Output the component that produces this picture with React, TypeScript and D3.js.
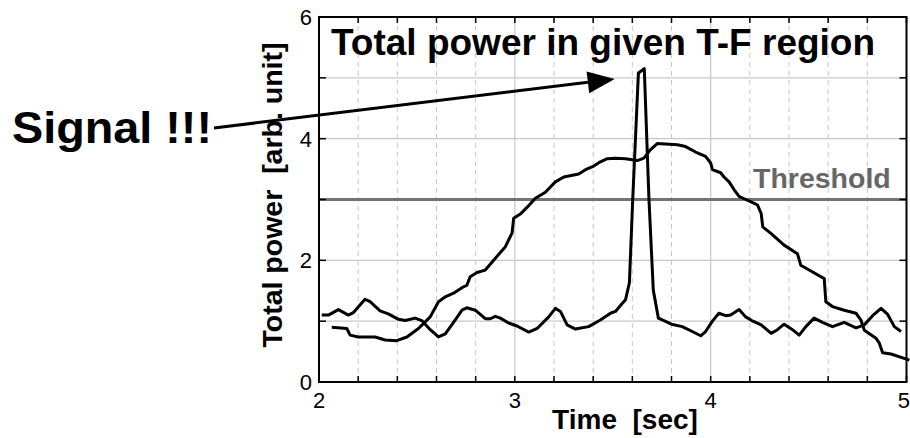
import React from "react";
import * as d3 from "d3";

// ---- data ----
const xTicksMajor = [2, 3, 4, 5];
const xTicksMinor = [2.2, 2.4, 2.6, 2.8, 3.2, 3.4, 3.6, 3.8, 4.2, 4.4, 4.6, 4.8];
const yTicks = [0, 1, 2, 3, 4, 5, 6];
const yTickLabels = [0, 2, 4, 6];
const thresholdValue = 3;

// noisy power with the signal spike
const signalSeries: [number, number][] = [
  [2.014, 1.1], [2.048, 1.1], [2.099, 1.19], [2.15, 1.1], [2.175, 1.14], [2.235, 1.36], [2.261, 1.32],
  [2.312, 1.17], [2.354, 1.12], [2.406, 1.03], [2.44, 1.01], [2.491, 1.05], [2.525, 1.01], [2.568, 0.86],
  [2.61, 0.74], [2.645, 0.79], [2.696, 1.02], [2.73, 1.18], [2.755, 1.22], [2.798, 1.18], [2.849, 1.04],
  [2.875, 1.04], [2.9, 1.08], [2.926, 1.05], [2.968, 0.97], [3.011, 0.92], [3.071, 0.82], [3.114, 0.88],
  [3.173, 1.07], [3.207, 1.21], [3.233, 1.16], [3.267, 0.94], [3.309, 0.87], [3.377, 0.91], [3.437, 1.02],
  [3.488, 1.13], [3.514, 1.16], [3.548, 1.29], [3.565, 1.35], [3.585, 1.63], [3.602, 3.0], [3.631, 5.08],
  [3.661, 5.15], [3.685, 3.0], [3.707, 1.51], [3.733, 1.05], [3.8, 0.95], [3.855, 0.91], [3.906, 0.83],
  [3.949, 0.76], [3.974, 0.83], [4.009, 1.0], [4.042, 1.13], [4.077, 1.09], [4.102, 1.1], [4.145, 1.19],
  [4.179, 1.07], [4.21, 1.01], [4.258, 0.94], [4.309, 0.8], [4.341, 0.86], [4.375, 0.95], [4.418, 0.86],
  [4.452, 0.77], [4.486, 0.91], [4.528, 1.05], [4.571, 0.98], [4.622, 0.91], [4.682, 0.98], [4.742, 0.89],
  [4.785, 0.94], [4.827, 1.09], [4.87, 1.21], [4.904, 1.11], [4.938, 0.91], [4.972, 0.83],
];

// broad background power hump
const backgroundSeries: [number, number][] = [
  [2.065, 0.9], [2.142, 0.88], [2.159, 0.77], [2.201, 0.74], [2.286, 0.74], [2.338, 0.69], [2.397, 0.68],
  [2.449, 0.74], [2.508, 0.88], [2.568, 1.07], [2.61, 1.32], [2.645, 1.4], [2.687, 1.46], [2.73, 1.55],
  [2.755, 1.59], [2.772, 1.73], [2.807, 1.8], [2.849, 1.84], [2.892, 2.0], [2.926, 2.13], [2.951, 2.22],
  [2.986, 2.45], [2.994, 2.69], [3.028, 2.76], [3.062, 2.87], [3.105, 3.02], [3.156, 3.12], [3.207, 3.29],
  [3.25, 3.37], [3.326, 3.42], [3.361, 3.49], [3.403, 3.55], [3.437, 3.62], [3.472, 3.67], [3.514, 3.68],
  [3.565, 3.67], [3.625, 3.64], [3.659, 3.68], [3.693, 3.82], [3.727, 3.92], [3.83, 3.9], [3.872, 3.87],
  [3.923, 3.78], [3.974, 3.71], [4.0, 3.6], [4.009, 3.49], [4.034, 3.46], [4.051, 3.44], [4.068, 3.37],
  [4.094, 3.29], [4.12, 3.16], [4.145, 3.05], [4.179, 3.0], [4.22, 2.94], [4.239, 2.91], [4.258, 2.77],
  [4.266, 2.55], [4.309, 2.44], [4.375, 2.25], [4.443, 2.11], [4.46, 1.92], [4.503, 1.84], [4.58, 1.7],
  [4.588, 1.32], [4.622, 1.24], [4.682, 1.18], [4.742, 1.13], [4.767, 1.02], [4.785, 0.85], [4.844, 0.72],
  [4.861, 0.64], [4.878, 0.48], [4.921, 0.46], [5.015, 0.36],
];

// annotation arrow tip (data coords)
const arrowTip: [number, number] = [3.51, 4.98];

const FONT = "'Liberation Sans', Arial, Helvetica, sans-serif";

export default function App() {
  const W = 910;
  const H = 438;
  const left = 319;
  const right = 906.5;
  const top = 17;
  const bottom = 382;

  const x = d3.scaleLinear().domain([2, 5]).range([left, right]);
  const y = d3.scaleLinear().domain([0, 6]).range([bottom, top]);

  const line = d3
    .line<[number, number]>()
    .x((d) => x(d[0]))
    .y((d) => y(d[1]))
    .curve(d3.curveLinear);

  // arrow geometry
  const ax0 = 214;
  const ay0 = 128;
  const ax1 = x(arrowTip[0]);
  const ay1 = y(arrowTip[1]);
  const ang = Math.atan2(ay1 - ay0, ax1 - ax0);
  const headLen = 27;
  const headHalf = 11;
  const bx = ax1 - headLen * Math.cos(ang);
  const by = ay1 - headLen * Math.sin(ang);
  const px = -Math.sin(ang);
  const py = Math.cos(ang);
  const head = `M${ax1},${ay1} L${bx + headHalf * px},${by + headHalf * py} L${bx - headHalf * px},${by - headHalf * py} Z`;

  const allXTicks = [...xTicksMajor, ...xTicksMinor];

  return (
    <svg
      width={W}
      height={H}
      style={{ position: "absolute", left: 0, top: 0, background: "#fff" }}
      fontFamily={FONT}
    >
      {/* grid */}
      {xTicksMinor.map((t) => (
        <line key={"gx" + t} x1={x(t)} x2={x(t)} y1={top} y2={bottom} stroke="#c8c8c8" strokeWidth={1} strokeDasharray="5,4" />
      ))}
      {xTicksMajor
        .filter((t) => t > 2 && t < 5)
        .map((t) => (
          <line key={"gX" + t} x1={x(t)} x2={x(t)} y1={top} y2={bottom} stroke="#c8c8c8" strokeWidth={1.2} />
        ))}
      {yTicks
        .filter((v) => v > 0 && v < 6)
        .map((v) => (
          <line key={"gy" + v} x1={left} x2={right} y1={y(v)} y2={y(v)} stroke="#c8c8c8" strokeWidth={1.2} />
        ))}

      {/* threshold */}
      <line x1={left} x2={right} y1={y(thresholdValue)} y2={y(thresholdValue)} stroke="#737373" strokeWidth={3.2} />
      <text x={753} y={188} fontSize={28.5} fontWeight="bold" fill="#666">
        Threshold
      </text>

      {/* curves */}
      <path d={line(backgroundSeries) || ""} fill="none" stroke="#000" strokeWidth={3} strokeLinejoin="round" />
      <path d={line(signalSeries) || ""} fill="none" stroke="#000" strokeWidth={3} strokeLinejoin="round" />

      {/* axes box */}
      <rect x={left} y={top} width={right - left} height={bottom - top} fill="none" stroke="#000" strokeWidth={2} />

      {/* ticks */}
      {allXTicks.map((t) => (
        <g key={"tx" + t}>
          <line x1={x(t)} x2={x(t)} y1={bottom} y2={bottom - 6} stroke="#000" strokeWidth={1.5} />
          <line x1={x(t)} x2={x(t)} y1={top} y2={top + 6} stroke="#000" strokeWidth={1.5} />
        </g>
      ))}
      {yTicks.map((v) => (
        <g key={"ty" + v}>
          <line x1={left} x2={left + 7} y1={y(v)} y2={y(v)} stroke="#000" strokeWidth={1.5} />
          <line x1={right} x2={right - 7} y1={y(v)} y2={y(v)} stroke="#000" strokeWidth={1.5} />
        </g>
      ))}

      {/* tick labels */}
      {yTickLabels.map((v) => (
        <text key={"ly" + v} x={312} y={y(v)} dy="0.36em" textAnchor="end" fontSize={22}>
          {v}
        </text>
      ))}
      {xTicksMajor.map((t) => (
        <text
          key={"lx" + t}
          x={t === 5 ? 910 : x(t)}
          y={408}
          textAnchor={t === 5 ? "end" : "middle"}
          fontSize={22}
        >
          {t}
        </text>
      ))}

      {/* axis titles */}
      <text x={625} y={429} textAnchor="middle" fontSize={28} fontWeight="bold" style={{ whiteSpace: "pre" }}>
        {"Time  [sec]"}
      </text>
      <text
        transform={`translate(282,195) rotate(-90)`}
        textAnchor="middle"
        fontSize={28.5}
        fontWeight="bold"
        style={{ whiteSpace: "pre" }}
      >
        {"Total power  [arb. unit]"}
      </text>

      {/* title */}
      <text x={331} y={55} fontSize={37} fontWeight="bold">
        Total power in given T-F region
      </text>

      {/* annotation */}
      <text x={12} y={143} fontSize={45} fontWeight="bold" textLength={200} lengthAdjust="spacingAndGlyphs">
        Signal !!!
      </text>
      <line x1={ax0} y1={ay0} x2={bx} y2={by} stroke="#000" strokeWidth={3} />
      <path d={head} fill="#000" />
    </svg>
  );
}
